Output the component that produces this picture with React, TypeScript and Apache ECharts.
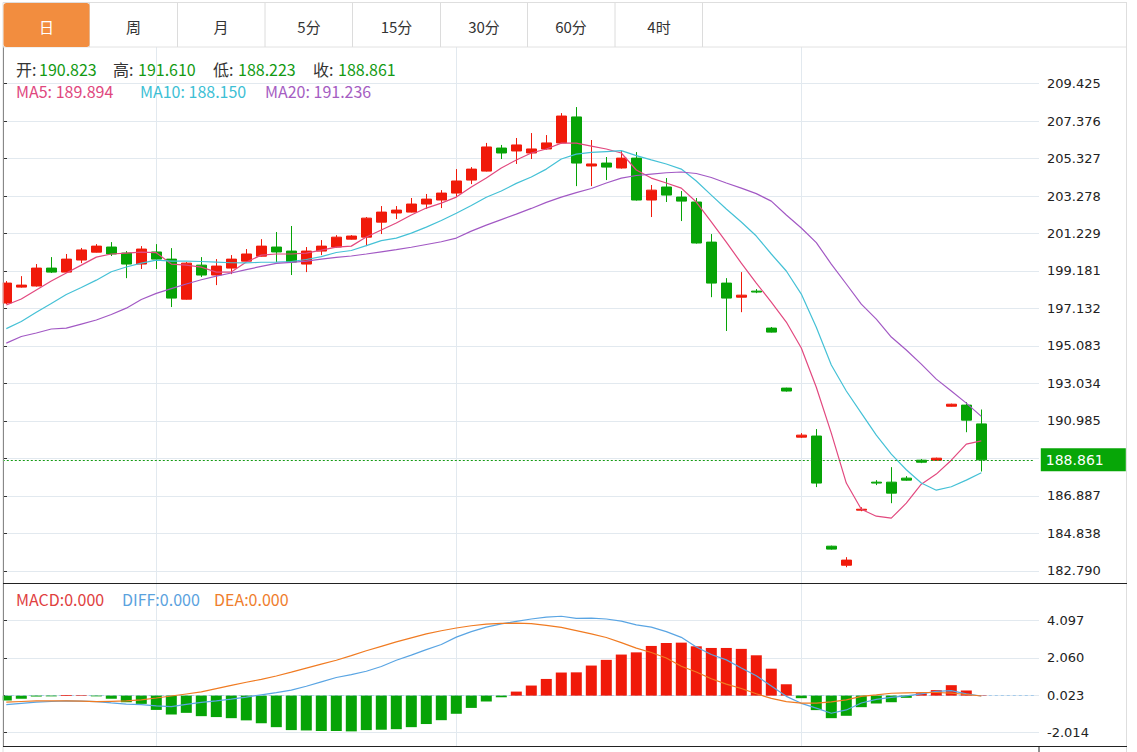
import React, { useEffect, useRef } from 'react';
import * as echarts from 'echarts';

// ---------- data ----------
const tabLabels = ['日', '周', '月', '5分', '15分', '30分', '60分', '4时'];

const openPrices = [197.43,198.30,198.36,199.34,199.12,199.78,200.21,200.49,200.16,199.56,
200.22,199.83,197.64,199.50,198.96,199.34,199.72,199.99,200.49,200.27,
199.56,200.27,200.49,200.92,201.03,201.85,202.35,202.40,202.84,203.06,
203.44,204.15,204.64,205.90,205.74,205.63,205.85,206.18,207.60,204.92,
205.08,204.81,205.35,203.06,203.77,203.22,202.95,200.76,198.52,197.75,
198.08,196.06,192.78,190.10,190.16,184.14,183.10,186.11,187.64,187.64,
187.86,188.84,188.84,191.79,191.85,190.823];

const closePrices = [198.52,198.41,199.34,199.12,199.83,200.33,200.54,200.11,199.56,200.38,
199.83,197.70,199.61,198.96,199.45,199.83,200.11,200.54,200.22,199.67,
200.27,200.54,201.03,201.09,202.07,202.40,202.51,202.84,203.11,203.44,
204.10,204.75,205.96,205.63,206.07,205.85,206.18,207.65,205.08,205.03,
204.86,205.35,203.06,203.60,203.33,203.00,200.71,198.52,197.70,197.86,
198.03,195.84,192.62,190.21,187.59,183.98,183.38,186.16,187.59,187.04,
187.75,188.73,188.95,191.90,191.03,188.861];

const lowPrices = [197.37,198.27,198.33,199.07,199.09,199.61,200.19,200.00,198.79,199.29,
199.29,197.21,197.62,198.85,198.41,199.01,199.70,199.97,199.67,198.96,
199.12,200.05,200.46,200.90,200.54,201.20,202.02,202.38,202.57,202.62,
203.22,203.93,204.62,205.30,205.03,205.30,205.82,206.15,203.82,203.82,
204.15,204.78,203.03,202.13,202.95,201.91,200.68,197.75,195.90,196.93,
197.97,195.82,192.59,190.05,187.37,183.95,182.99,186.05,187.48,186.49,
187.72,188.68,188.82,191.77,190.37,188.223];

const highPrices = [198.63,198.90,199.56,199.94,200.11,200.44,200.65,200.76,200.27,200.54,
200.65,200.43,199.67,199.94,199.83,200.05,200.38,200.92,201.31,201.64,
200.49,200.87,201.14,201.14,202.13,202.73,202.73,203.17,203.39,203.60,
204.75,204.86,206.18,206.07,206.45,206.72,206.61,207.81,208.14,206.34,
205.41,205.74,205.68,203.88,204.26,203.55,203.17,201.20,198.79,199.12,
198.19,196.12,192.80,190.32,190.54,184.17,183.54,186.27,187.75,188.46,
187.97,188.90,188.98,191.93,192.01,191.610];

const ma5 = [197.32,197.65,198.14,198.63,199.07,199.50,199.94,200.11,200.16,200.21,
200.18,199.56,199.50,199.39,199.12,199.12,199.67,200.05,200.11,200.11,
200.16,200.32,200.49,200.54,201.04,201.42,201.80,202.24,202.62,202.89,
203.22,203.77,204.26,204.81,205.25,205.63,205.85,206.17,206.17,206.01,
205.85,205.63,204.70,204.26,203.99,203.71,202.95,201.86,200.76,199.61,
198.52,197.48,196.39,194.97,192.83,190.32,187.59,186.16,185.78,185.67,
186.49,187.53,188.08,188.84,189.72,189.894];

const ma10 = [196.03,196.42,196.93,197.41,197.90,198.28,198.68,199.14,199.40,199.61,
199.77,199.72,199.72,199.70,199.67,199.63,199.62,199.66,199.67,199.70,
199.81,199.97,200.19,200.30,200.57,200.84,200.98,201.25,201.58,201.94,
202.34,202.76,203.21,203.55,203.97,204.32,204.75,205.30,205.57,205.66,
205.71,205.76,205.49,205.25,205.03,204.75,204.10,203.33,202.57,201.86,
201.09,200.11,199.18,197.92,196.11,194.04,192.62,191.41,190.21,189.17,
188.32,187.59,187.20,187.39,187.75,188.150];

const ma20 = [195.24,195.60,195.79,196.01,196.06,196.28,196.50,196.80,197.15,197.62,
197.96,198.22,198.47,198.70,198.90,199.07,199.26,199.43,199.60,199.65,
199.72,199.83,199.92,200.00,200.11,200.23,200.35,200.48,200.63,200.78,
200.98,201.36,201.69,201.99,202.29,202.60,202.93,203.22,203.46,203.69,
203.99,204.26,204.40,204.48,204.55,204.59,204.51,204.29,203.99,203.71,
203.41,203.00,202.24,201.53,200.73,199.56,198.47,197.37,196.55,195.57,
194.86,194.09,193.27,192.62,191.96,191.236];

const macdHist = [-0.27,-0.17,-0.05,-0.04,0.03,0.03,-0.04,-0.17,-0.36,-0.45,
-0.78,-1.03,-0.94,-1.12,-1.17,-1.23,-1.35,-1.50,-1.72,-1.88,
-1.90,-1.93,-1.93,-1.95,-1.88,-1.86,-1.83,-1.72,-1.55,-1.34,
-0.99,-0.67,-0.32,-0.09,0.22,0.55,0.91,1.26,1.27,1.64,
1.95,2.24,2.36,2.71,2.87,2.89,2.69,2.60,2.60,2.55,
2.20,1.47,0.62,-0.14,-0.79,-1.23,-1.10,-0.63,-0.43,-0.36,
-0.12,0.13,0.30,0.57,0.28,0.02];

const diffLine = [-0.49,-0.42,-0.35,-0.32,-0.29,-0.30,-0.33,-0.40,-0.46,-0.49,
-0.56,-0.60,-0.48,-0.37,-0.29,-0.19,-0.08,0.04,0.16,0.30,
0.51,0.75,0.99,1.15,1.33,1.59,1.93,2.21,2.51,2.79,
3.19,3.49,3.74,3.91,4.05,4.18,4.28,4.33,4.21,4.23,
4.18,4.06,3.86,3.74,3.49,3.18,2.65,2.24,1.95,1.51,
1.08,0.53,-0.04,-0.42,-0.68,-0.96,-0.78,-0.40,-0.20,-0.10,
-0.01,0.10,0.23,0.27,0.10,-0.02];

const deaLine = [-0.35,-0.32,-0.29,-0.29,-0.29,-0.30,-0.33,-0.31,-0.29,-0.23,
-0.13,-0.02,0.09,0.20,0.38,0.56,0.73,0.89,1.07,1.28,
1.50,1.72,1.93,2.18,2.45,2.69,2.93,3.15,3.37,3.54,
3.69,3.81,3.90,3.94,3.95,3.93,3.83,3.72,3.55,3.37,
3.17,2.89,2.59,2.35,2.05,1.60,1.29,0.92,0.63,0.39,
0.10,-0.15,-0.33,-0.41,-0.41,-0.34,-0.23,-0.04,0.04,0.13,
0.15,0.17,0.17,0.14,0.06,-0.02];

const priceTicks = [182.790,184.838,186.887,188.936,190.985,193.034,195.083,197.132,199.181,201.229,203.278,205.327,207.376,209.425];
const priceLabelTicks = [182.790,184.838,186.887,190.985,193.034,195.083,197.132,199.181,201.229,203.278,205.327,207.376,209.425];
const macdTicks = [-2.014, 0.023, 2.060, 4.097];
const lastPrice = 188.861;
const slotCount = 69; // 66 candles + 3 empty slots at the right
const categories = Array.from({ length: slotCount }, (_, i) => 'K' + (i + 1));
const verticalLineIdx = [10, 30, 53];

// ---------- styles ----------
const RED = '#f01a0a';
const GREEN = '#06a306';
const GRID_LINE = '#e2e9ef';
const CJK = "'Noto Sans CJK SC', 'Noto Sans', sans-serif";

const PRICE_MIN = 182.101, PRICE_MAX = 211.423;
const MACD_MIN = -2.775, MACD_MAX = 6.116;

function buildOption() {
  const n = closePrices.length;
  const candleData = openPrices.map((o, i) => [o, closePrices[i], lowPrices[i], highPrices[i]]);
  const histData = macdHist.map((v) => ({ value: v, itemStyle: { color: v >= 0 ? RED : GREEN } }));
  const vLines = verticalLineIdx.map((i) => ({ xAxis: categories[i] }));

  const txt = (x: number, y: number, text: string, fill: string, size = 16, family = CJK, align = 'left') => ({
    type: 'text', x, y, z: 110, silent: true,
    style: { text, fill, fontSize: size, fontFamily: family, textAlign: align, textVerticalAlign: 'middle', align, verticalAlign: 'middle' },
  });
  const ln = (x1: number, y1: number, x2: number, y2: number, stroke: string) => ({
    type: 'line', z: 105, silent: true, shape: { x1, y1, x2, y2 }, style: { stroke, lineWidth: 1 },
  });

  const tabDividers = [89.5, 177.5, 265, 352.5, 440.5, 527.5, 615, 702.5];
  const tabCenters = [46.5, 133.5, 221, 309, 396.5, 484, 571, 659];

  const graphics: any[] = [
    { type: 'rect', z: 100, silent: true, shape: { x: 0, y: 47, width: 2.6, height: 705 }, style: { fill: '#fff' } },
    ln(3, 2.5, 1127, 2.5, '#dedede'),
    ln(3, 47, 1127, 47, '#e2e2e2'),
    ln(3, 2.5, 3, 752, '#dedede'),
    ln(1126.5, 2.5, 1126.5, 752, '#dedede'),
    { type: 'rect', z: 106, silent: true, shape: { x: 3.5, y: 3, width: 86, height: 44, r: 3 }, style: { fill: '#f28d3f' } },
    ...tabDividers.map((x) => ln(x, 3, x, 47, '#dcdcdc')),
    ...tabLabels.map((t, i) => txt(tabCenters[i], 26, t, i === 0 ? '#ffffff' : '#333333', 15, CJK, 'center')),
    ln(3, 583.5, 1127, 583.5, '#222'),
    ln(3, 746.5, 1127, 746.5, '#222'),
    ln(1039, 746.5, 1039, 752, '#222'),
    // OHLC row
    txt(16, 69, '开:', '#333'), txt(39, 69, openPrices[n - 1].toFixed(3), '#139a13'),
    txt(113, 69, '高:', '#333'), txt(138, 69, highPrices[n - 1].toFixed(3), '#139a13'),
    txt(213, 69, '低:', '#333'), txt(238, 69, lowPrices[n - 1].toFixed(3), '#139a13'),
    txt(313, 69, '收:', '#333'), txt(338, 69, closePrices[n - 1].toFixed(3), '#139a13'),
    // MA row
    txt(16, 91, 'MA5: ' + ma5[n - 1].toFixed(3), '#e0477e'),
    txt(140, 91, 'MA10: ' + ma10[n - 1].toFixed(3), '#3dbfd5'),
    txt(265, 91, 'MA20: ' + ma20[n - 1].toFixed(3), '#a55dc2'),
    // MACD row
    txt(16, 598.5, 'MACD:0.000', '#e04040'),
    txt(122, 598.5, 'DIFF:0.000', '#5aa2de'),
    txt(214, 598.5, 'DEA:0.000', '#ef7d2c'),
  ];

  const axisCommon = (min: number, max: number, ticks: number[], labels: number[], gridIndex: number) => ({
    type: 'value', gridIndex, min, max, position: 'right',
    axisLine: { show: true, lineStyle: { color: '#333', width: 1 } },
    axisTick: { show: true, length: 4, inside: false, lineStyle: { color: '#333' }, customValues: ticks },
    axisLabel: {
      show: true, customValues: labels, color: '#222', fontSize: 13, fontFamily: "'DejaVu Sans', sans-serif", margin: 8,
      formatter: (v: number) => v.toFixed(3),
    },
    splitLine: { show: true, lineStyle: { color: GRID_LINE, width: 1 } },
  });

  return {
    animation: false,
    backgroundColor: '#ffffff',
    grid: [
      { left: -1.2, top: 47, width: slotCount * 15, height: 536.5, containLabel: false, outerBoundsMode: 'none', show: false },
      { left: 3, top: 47, width: 1036, height: 536.5, containLabel: false, outerBoundsMode: 'none', show: false },
      { left: -1.2, top: 583.5, width: slotCount * 15, height: 163, containLabel: false, outerBoundsMode: 'none', show: false },
      { left: 3, top: 583.5, width: 1036, height: 163, containLabel: false, outerBoundsMode: 'none', show: false },
    ],
    xAxis: [
      { type: 'category', gridIndex: 0, data: categories, boundaryGap: true, show: false },
      { type: 'value', gridIndex: 1, min: 0, max: 1, show: false },
      { type: 'category', gridIndex: 2, data: categories, boundaryGap: true, show: false },
      { type: 'value', gridIndex: 3, min: 0, max: 1, show: false },
    ],
    yAxis: [
      { type: 'value', gridIndex: 0, min: PRICE_MIN, max: PRICE_MAX, show: false, splitLine: { show: false } },
      axisCommon(PRICE_MIN, PRICE_MAX, priceTicks, priceLabelTicks, 1),
      { type: 'value', gridIndex: 2, min: MACD_MIN, max: MACD_MAX, show: false, splitLine: { show: false } },
      axisCommon(MACD_MIN, MACD_MAX, macdTicks, macdTicks, 3),
    ],
    graphic: { elements: graphics },
    series: [
      {
        type: 'candlestick', xAxisIndex: 0, yAxisIndex: 0, data: candleData, barWidth: 10,
        itemStyle: { color: RED, color0: GREEN, borderColor: RED, borderColor0: GREEN, borderWidth: 1 },
        markLine: {
          silent: true, z: 1, symbol: ['none', 'none'], label: { show: false },
          lineStyle: { color: GRID_LINE, type: 'solid', width: 1 }, data: vLines,
        },
      },
      { type: 'line', xAxisIndex: 0, yAxisIndex: 0, data: ma5, symbol: 'none', lineStyle: { color: '#e2497f', width: 1.2 }, itemStyle: { color: '#e2497f' } },
      { type: 'line', xAxisIndex: 0, yAxisIndex: 0, data: ma10, symbol: 'none', lineStyle: { color: '#45c1d6', width: 1.2 }, itemStyle: { color: '#45c1d6' } },
      {
        type: 'line', xAxisIndex: 0, yAxisIndex: 0, data: ma20, symbol: 'none', lineStyle: { color: '#a259c4', width: 1.2 }, itemStyle: { color: '#a259c4' },
        markLine: {
          silent: true, symbol: ['none', 'none'],
          lineStyle: { color: '#139a13', type: [2, 2], width: 1 },
          label: {
            show: true, position: 'end', distance: 7, formatter: lastPrice.toFixed(3),
            color: '#fff', backgroundColor: '#07a607', fontSize: 14, fontFamily: "'DejaVu Sans', sans-serif",
            padding: [4, 5, 4, 5], width: 75, lineHeight: 15,
          },
          data: [{ yAxis: lastPrice }],
        },
      },
      {
        type: 'bar', xAxisIndex: 2, yAxisIndex: 2, data: histData, barWidth: 11,
        markLine: {
          silent: true, z: 1, symbol: ['none', 'none'], label: { show: false },
          lineStyle: { color: GRID_LINE, type: 'solid', width: 1 },
          data: [...vLines, { yAxis: 0, lineStyle: { color: '#a6cbea', type: [3, 3], width: 1 } }],
        },
      },
      { type: 'line', xAxisIndex: 2, yAxisIndex: 2, data: diffLine, symbol: 'none', lineStyle: { color: '#5aa5e3', width: 1.2 }, itemStyle: { color: '#5aa5e3' } },
      { type: 'line', xAxisIndex: 2, yAxisIndex: 2, data: deaLine, symbol: 'none', lineStyle: { color: '#f07b22', width: 1.2 }, itemStyle: { color: '#f07b22' } },
    ],
  };
}

export default function App() {
  const ref = useRef<HTMLDivElement>(null);
  useEffect(() => {
    if (!ref.current) return;
    const chart = echarts.init(ref.current, null, { renderer: 'svg' });
    chart.setOption(buildOption() as any);
    return () => chart.dispose();
  }, []);
  return (
    <div
      ref={ref}
      style={{ position: 'fixed', left: 0, top: 0, width: 1137, height: 752, background: '#ffffff' }}
    />
  );
}
